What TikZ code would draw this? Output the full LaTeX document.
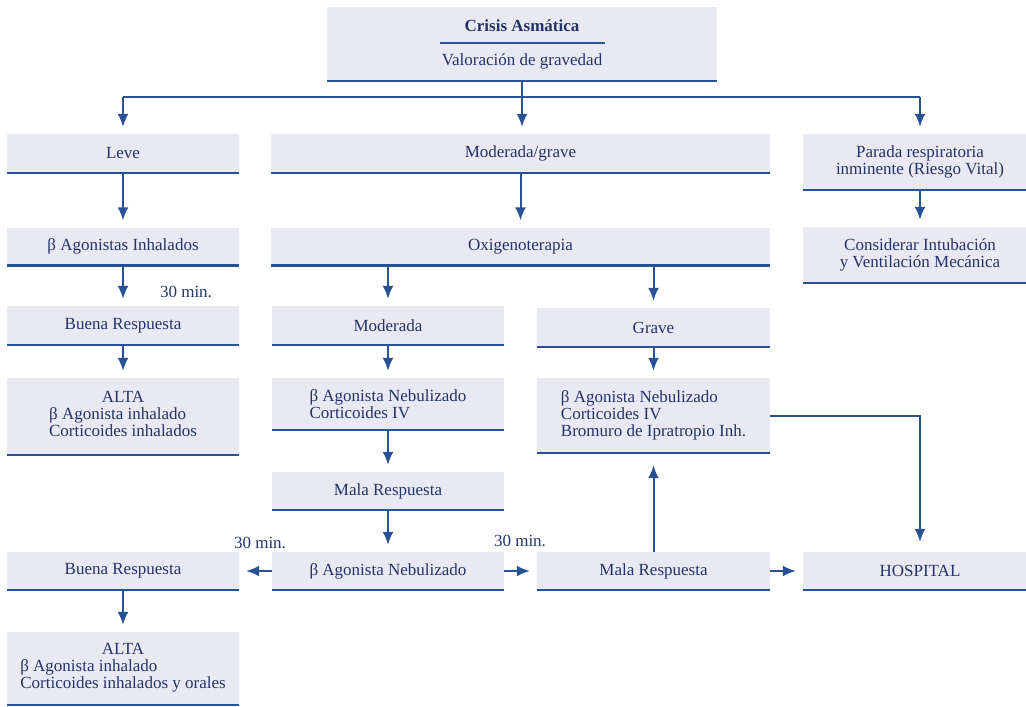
\documentclass[tikz,border=0pt]{standalone}
\usepackage{fontspec}
\setmainfont{Liberation Serif}
\usepackage{tikz}
\usetikzlibrary{arrows.meta}
\definecolor{boxfill}{RGB}{233,233,243}
\definecolor{lineblue}{RGB}{40,82,148}
\definecolor{txtblue}{RGB}{34,52,104}
\tikzstyle{box}=[fill=boxfill,text=txtblue,inner sep=2pt,minimum height=39pt,
  append after command={(\tikzlastnode.south west) edge[draw=lineblue,line width=2.5pt] (\tikzlastnode.south east)}]
\tikzstyle{lbl}=[text=txtblue,inner sep=0pt]
\tikzstyle{link}=[draw=lineblue,line width=2pt]
\tikzstyle{arr}=[link,-{Latex[length=13pt,width=11pt]},shorten >=7pt]

\begin{document}
\begin{tikzpicture}[x=1pt,y=-1pt,font=\fontsize{17}{17}\selectfont]
  \useasboundingbox (0,0) rectangle (1026,707);
  % top: assessment
  \node (crisis) [box,minimum width=390pt,minimum height=74pt,align=center] at (522,44)
    {\textbf{Crisis Asmática}\\[-4pt]{\color{lineblue}\rule{165pt}{2pt}}\\[4pt]Valoración de gravedad};
  % first line: severity
  \node (leve)     [box,minimum width=232pt] at (123,153.5) {Leve};
  \node (modgrave) [box,minimum width=499pt] at (520.5,153.5) {Moderada/grave};
  \node (parada)   [box,minimum width=234pt,minimum height=56pt,align=center] at (920,162)
    {Parada respiratoria\\inminente (Riesgo Vital)};
  % second line: first treatment
  \node (binh)  [box,minimum width=232pt,minimum height=38pt] at (123,246.5) {β Agonistas Inhalados};
  \node (oxi)   [box,minimum width=499pt,minimum height=38pt] at (520.5,246.5) {Oxigenoterapia};
  \node (intub) [box,minimum width=234pt,minimum height=56pt,align=center] at (920,255)
    {Considerar Intubación\\y Ventilación Mecánica};
  % third line
  \node (buena1) [box,minimum width=232pt] at (123,325.5) {Buena Respuesta};
  \node (mod)    [box,minimum width=232pt] at (388,325.5) {Moderada};
  \node (grave)  [box,minimum width=233pt] at (653.5,327.5) {Grave};
  % fourth line
  \node (alta1) [box,minimum width=232pt,minimum height=77pt] at (123,416.5)
    {\begin{tabular}{@{}l@{}}\multicolumn{1}{@{}c@{}}{ALTA}\\β Agonista inhalado\\Corticoides inhalados\end{tabular}};
  \node (modtx) [box,minimum width=232pt,minimum height=52pt,align=left] at (388,404)
    {β Agonista Nebulizado\\Corticoides IV};
  \node (gravetx) [box,minimum width=233pt,minimum height=75pt,align=left] at (653.5,415.5)
    {β Agonista Nebulizado\\Corticoides IV\\Bromuro de Ipratropio Inh.};
  % fifth and sixth line: response
  \node (mala1)  [box,minimum width=232pt,minimum height=38pt] at (388,491) {Mala Respuesta};
  \node (nebu)   [box,minimum width=232pt,minimum height=38pt] at (388,571) {β Agonista Nebulizado};
  \node (buena2) [box,minimum width=232pt,minimum height=38pt] at (123,571) {Buena Respuesta};
  \node (mala2)  [box,minimum width=233pt,minimum height=38pt] at (653.5,571) {Mala Respuesta};
  \node (hosp)   [box,minimum width=234pt,minimum height=38pt] at (920,571) {HOSPITAL};
  \node (alta2)  [box,minimum width=232pt,minimum height=73pt] at (123,668.5)
    {\begin{tabular}{@{}l@{}}\multicolumn{1}{@{}c@{}}{ALTA}\\β Agonista inhalado\\Corticoides inhalados y orales\end{tabular}};
  % time labels
  \node (min1) [lbl] at (186,292) {30 min.};
  \node (min2) [lbl] at (260,543) {30 min.};
  \node (min3) [lbl] at (520,541) {30 min.};
  % connectors
  \coordinate (bus) at (522,97);
  \draw[link] (crisis) -- (bus);
  \draw[link] (bus -| leve) -- (bus -| parada);
  \draw[arr] (bus -| leve) -- (leve);
  \draw[arr] (bus) -- (bus |- modgrave.north);
  \draw[arr] (bus -| parada) -- (parada);
  \draw[arr] (leve) -- (binh);
  \draw[arr] (modgrave) -- (oxi);
  \draw[arr] (parada) -- (intub);
  \draw[arr] (binh) -- (buena1);
  \draw[arr] (oxi.south -| mod.north) -- (mod.north);
  \draw[arr] (oxi.south -| grave.north) -- (grave.north);
  \draw[arr] (buena1) -- (alta1);
  \draw[arr] (mod) -- (modtx);
  \draw[arr] (grave) -- (gravetx);
  \draw[arr] (modtx) -- (mala1);
  \draw[arr] (mala1) -- (nebu);
  \draw[arr] (nebu) -- (buena2);
  \draw[arr] (nebu) -- (mala2);
  \draw[arr] (mala2) -- (hosp);
  \draw[arr] (buena2) -- (alta2);
  \draw[arr,shorten >=12pt] (mala2) -- (gravetx);
  \draw[arr,shorten >=10pt] (gravetx.east) -| (hosp);
\end{tikzpicture}
\end{document}
